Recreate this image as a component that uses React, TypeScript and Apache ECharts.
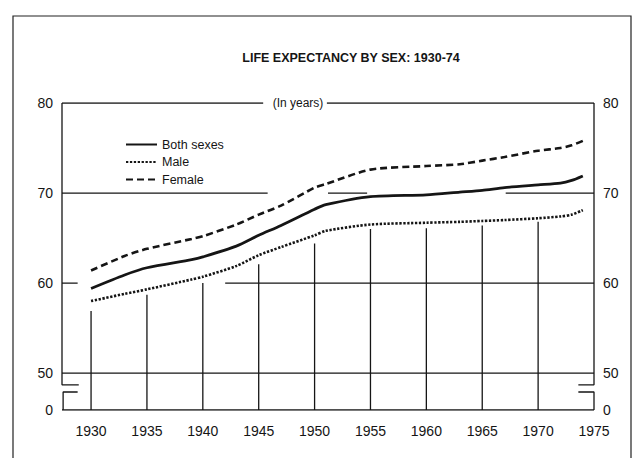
import React, { useEffect, useRef } from "react";
import * as echarts from "echarts";

// ---- data (life expectancy, years) ----
const years = [1930, 1933, 1935, 1939, 1940, 1943, 1945, 1947, 1950, 1951, 1955, 1960, 1963, 1965, 1967, 1970, 1972, 1973, 1974];
const bothSexes = [59.4, 60.9, 61.7, 62.6, 62.9, 64.1, 65.3, 66.4, 68.2, 68.7, 69.6, 69.8, 70.1, 70.3, 70.6, 70.9, 71.1, 71.4, 71.9];
const male = [58.0, 58.8, 59.3, 60.4, 60.7, 61.9, 63.1, 64.0, 65.3, 65.8, 66.5, 66.7, 66.8, 66.9, 67.0, 67.2, 67.4, 67.6, 68.1];
const female = [61.4, 63.0, 63.8, 64.9, 65.2, 66.5, 67.6, 68.6, 70.6, 71.0, 72.6, 73.0, 73.2, 73.6, 74.0, 74.7, 75.0, 75.3, 75.8];

// vertical rulings drawn up from the base to just under the curves
const rulingYears = [1930, 1935, 1940, 1945, 1950, 1955, 1960, 1965, 1970];
const rulingTops = [56.9, 58.7, 60.0, 62.1, 64.4, 66.0, 66.1, 66.4, 66.8];

const xTickLabels = [1930, 1935, 1940, 1945, 1950, 1955, 1960, 1965, 1970, 1975];
const yTickValues = [50, 60, 70, 80];
const BREAK_BASE = 45.9; // plotted position of the "0" level below the axis break
const BREAK_HIGH = 48.7;
const BREAK_LOW = 47.9;
const X_MIN = 1927.4;
const X_MAX = 1975;

const TITLE = "LIFE EXPECTANCY BY SEX: 1930-74";
const UNIT = "(In years)";
const FONT = '"Liberation Sans", Arial, Helvetica, sans-serif';
const INK = "#151515";

type Pt = [number, number];

function buildSegments(): Pt[][] {
  const segs: Pt[][] = [];
  // top border at 80, interrupted by the unit label
  segs.push([[X_MIN, 80], [1945.4, 80]]);
  segs.push([[1951.1, 80], [X_MAX, 80]]);
  // partial rulings at 70
  segs.push([[X_MIN, 70], [1945.8, 70]]);
  segs.push([[1951.2, 70], [1954.7, 70]]);
  segs.push([[1967.1, 70], [X_MAX, 70]]);
  // partial rulings at 60
  segs.push([[X_MIN, 60], [1928.8, 60]]);
  segs.push([[1942.0, 60], [X_MAX, 60]]);
  // full ruling at 50 and base line
  segs.push([[X_MIN, 50], [X_MAX, 50]]);
  segs.push([[X_MIN, BREAK_BASE], [X_MAX, BREAK_BASE]]);
  // left axis with break
  segs.push([[X_MIN, 80], [X_MIN, BREAK_HIGH], [1928.9, BREAK_HIGH]]);
  segs.push([[1928.8, BREAK_LOW], [X_MIN + 0.1, BREAK_LOW], [X_MIN + 0.1, BREAK_BASE]]);
  // right axis with break
  segs.push([[X_MAX, 80], [X_MAX, BREAK_HIGH], [1973.6, BREAK_HIGH]]);
  segs.push([[1973.6, BREAK_LOW], [X_MAX, BREAK_LOW], [X_MAX, BREAK_BASE]]);
  // vertical rulings
  rulingYears.forEach((yr, i) => {
    segs.push([[yr, BREAK_BASE], [yr, rulingTops[i]]]);
  });
  return segs;
}

export default function App() {
  const ref = useRef<HTMLDivElement>(null);

  useEffect(() => {
    if (!ref.current) return;
    const chart = echarts.init(ref.current, undefined, { renderer: "svg" });

    const toPairs = (vals: number[]) => years.map((y, i) => [y, vals[i]]);

    const decor = buildSegments().map((seg) => ({
      type: "line" as const,
      data: seg,
      symbol: "none",
      silent: true,
      animation: false,
      lineStyle: { color: INK, width: 1.3 },
      z: 1,
      tooltip: { show: false },
    }));

    const yAxisCommon = {
      type: "value" as const,
      min: BREAK_BASE,
      max: 80,
      axisLine: { show: false },
      axisTick: { show: false },
      splitLine: { show: false },
      axisLabel: {
        customValues: [BREAK_BASE, ...yTickValues],
        formatter: (v: number) => (v < 50 ? "0" : String(Math.round(v))),
        color: INK,
        fontSize: 14,
        fontFamily: FONT,
        margin: 9,
      },
    };

    const legendIconless = { opacity: 0 };

    chart.setOption({
      animation: false,
      backgroundColor: "#ffffff",
      title: {
        text: TITLE,
        left: 346,
        top: 46,
        textAlign: "center",
        textStyle: { fontFamily: FONT, fontSize: 12.5, fontWeight: "bold", color: INK },
      },
      legend: {
        data: [
          { name: "Both sexes", itemStyle: legendIconless },
          { name: "Male", itemStyle: legendIconless },
          { name: "Female", itemStyle: legendIconless },
        ],
        orient: "vertical",
        left: 125,
        top: 138,
        itemWidth: 31,
        itemHeight: 12,
        itemGap: 4.5,
        padding: 0,
        textStyle: { fontFamily: FONT, fontSize: 12.5, color: INK },
      },
      grid: { left: 62, right: 42, top: 103, bottom: 48, containLabel: false },
      xAxis: {
        type: "value",
        min: X_MIN,
        max: X_MAX,
        axisLine: { show: false },
        axisTick: { show: false },
        splitLine: { show: false },
        axisLabel: {
          customValues: xTickLabels,
          formatter: (v: number) => String(Math.round(v)),
          color: INK,
          fontSize: 14,
          fontFamily: FONT,
          margin: 14,
        },
      },
      yAxis: [
        { ...yAxisCommon, position: "left" },
        { ...yAxisCommon, position: "right" },
      ],
      graphic: [
        {
          type: "rect",
          shape: { x: 13, y: 16, width: 618, height: 470 },
          style: { fill: "none", stroke: "#222", lineWidth: 1.2 },
          silent: true,
        },
        {
          type: "text",
          x: 298,
          y: 103,
          style: {
            text: UNIT,
            fontFamily: FONT,
            fontSize: 12,
            fill: INK,
            textAlign: "center",
            textVerticalAlign: "middle",
          },
          silent: true,
        },
      ],
      series: [
        ...decor,
        {
          name: "Both sexes",
          type: "line",
          data: toPairs(bothSexes),
          symbol: "none",
          smooth: 0.25,
          lineStyle: { color: INK, width: 2.8, type: "solid" },
          itemStyle: { color: INK },
          z: 5,
        },
        {
          name: "Male",
          type: "line",
          data: toPairs(male),
          symbol: "none",
          smooth: 0.25,
          lineStyle: { color: INK, width: 2.6, type: [2.3, 1.6] },
          itemStyle: { color: INK },
          z: 5,
        },
        {
          name: "Female",
          type: "line",
          data: toPairs(female),
          symbol: "none",
          smooth: 0.25,
          lineStyle: { color: INK, width: 2.6, type: [7, 4] },
          itemStyle: { color: INK },
          z: 5,
        },
      ],
    });

    return () => chart.dispose();
  }, []);

  return (
    <div
      ref={ref}
      style={{ position: "absolute", left: 0, top: 0, width: 636, height: 458, background: "#fff" }}
    />
  );
}
